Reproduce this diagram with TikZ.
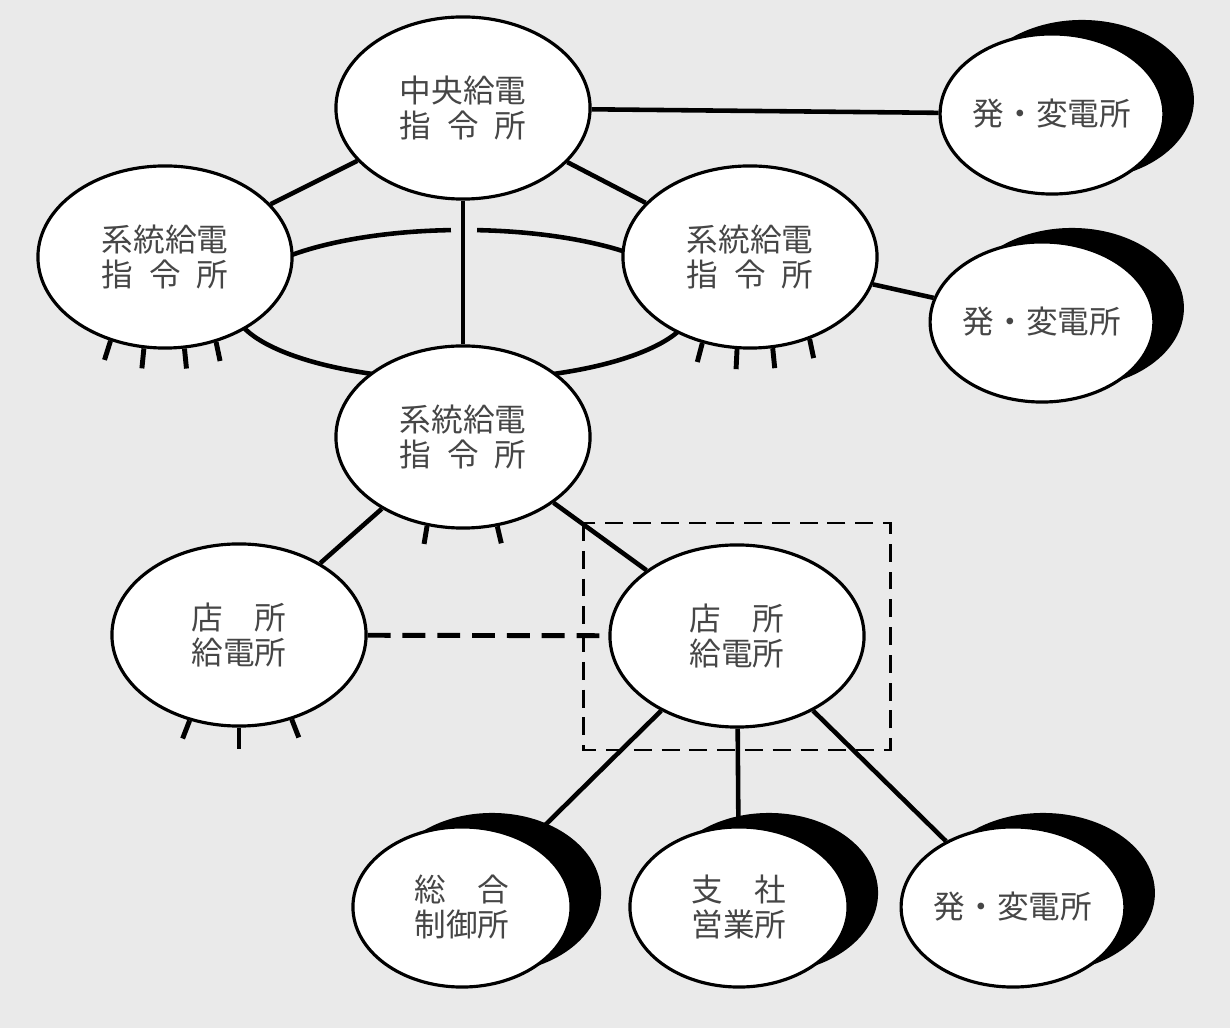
\documentclass[tikz,border=0pt]{standalone}
\usepackage{fontspec}
\setmainfont{Noto Sans CJK JP}
\usetikzlibrary{shapes.geometric,shadows}
\definecolor{paper}{RGB}{234,234,234}
\definecolor{ink}{RGB}{70,70,70}
\pgfdeclarelayer{paperlayer}
\pgfdeclarelayer{wirelayer}
\pgfsetlayers{paperlayer,wirelayer,main}
\begin{document}
\begin{tikzpicture}[x=0.01cm,y=-0.01cm,
  hub/.style={ellipse,draw,line width=0.9pt,fill=white,minimum width=2.54cm,minimum height=1.82cm,inner sep=0pt,align=center,text=ink,font=\fontsize{9}{10}\selectfont},
  site/.style={hub,minimum width=2.18cm,minimum height=1.6cm,drop shadow={opacity=1,fill=black,shadow xshift=0.30cm,shadow yshift=0.14cm}},
  wire/.style={line width=1.3pt},
  lash/.style={line width=1.4pt},
  link/.style={line width=1.4pt,dash pattern=on 6.5pt off 3.4pt},
  zone/.style={line width=0.85pt,dash pattern=on 5.1pt off 2.8pt}]
\begin{pgfonlayer}{paperlayer}
\fill [paper] (0,0) rectangle (1230,1028);
\end{pgfonlayer}
\node [hub] (central) at (463,108) {中央給電\\指\hspace{0.5em}令\hspace{0.5em}所};
\node [hub] (areaL) at (165,257) {系統給電\\指\hspace{0.5em}令\hspace{0.5em}所};
\node [hub] (areaR) at (750,257) {系統給電\\指\hspace{0.5em}令\hspace{0.5em}所};
\node [hub] (areaC) at (463,437) {系統給電\\指\hspace{0.5em}令\hspace{0.5em}所};
\node [hub] (shopL) at (239,635) {店\hspace{1em}所\\給電所};
\node [hub] (shopR) at (737,636) {店\hspace{1em}所\\給電所};
\node [site] (plant1) at (1052,114) {発・変電所};
\node [site] (plant2) at (1042,322) {発・変電所};
\node [site] (ctrl) at (462,907) {総\hspace{1em}合\\制御所};
\node [site] (branch) at (739,907) {支\hspace{1em}社\\営業所};
\node [site] (plant3) at (1013,907) {発・変電所};
\begin{pgfonlayer}{wirelayer}
\draw [wire] (central) -- (plant1);
\draw [wire] (central) -- (areaL);
\draw [wire] (central) -- (areaR);
\draw [wire] (central) -- (areaC);
\draw [wire] (areaR) -- (plant2);
\draw [wire] (463,305) ++(273.5:230 and 75) arc [start angle=273.5,end angle=627,x radius=230,y radius=75];
\draw [wire] (areaC) -- (shopL);
\draw [wire] (areaC) -- (shopR);
\draw [link] (shopL) -- (shopR);
\draw [wire] (shopR) -- (ctrl);
\draw [wire] (shopR) -- (branch);
\draw [wire] (shopR) -- (plant3);
\draw [zone] (583,523) rectangle (890,750);
\draw [lash] (areaL.237) -- ++(-6,19);
\draw [lash] (areaL.257) -- ++(-2,20);
\draw [lash] (areaL.282) -- ++(2,20);
\draw [lash] (areaL.301) -- ++(4,19);
\draw [lash] (areaR.241) -- ++(-5,19);
\draw [lash] (areaR.262) -- ++(-1,20);
\draw [lash] (areaR.284) -- ++(2,20);
\draw [lash] (areaR.306) -- ++(4,19);
\draw [lash] (areaC.248) -- ++(-3,18);
\draw [lash] (areaC.291) -- ++(4,17);
\draw [lash] (shopL.240) -- ++(-7,18);
\draw [lash] (shopL.270) -- ++(0,21);
\draw [lash] (shopL.302) -- ++(7,18);
\end{pgfonlayer}
\end{tikzpicture}
\end{document}
